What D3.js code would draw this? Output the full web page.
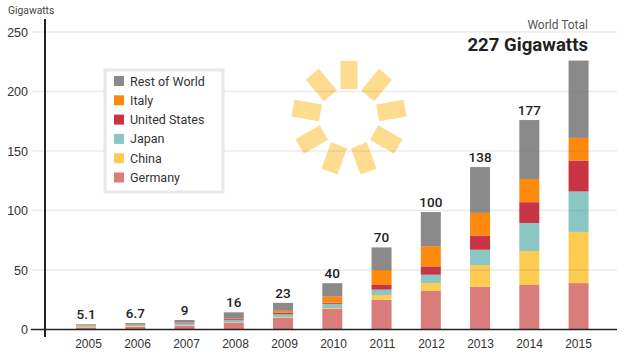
<!DOCTYPE html>
<html><head><meta charset="utf-8">
<script src="https://cdn.jsdelivr.net/npm/d3@7"></script>
<style>html,body{margin:0;background:#fff}svg{display:block;font-family:Roboto,sans-serif}</style>
</head><body><svg id="c" width="627" height="360"></svg>
<script>
const years=[2005,2006,2007,2008,2009,2010,2011,2012,2013,2014,2015];
const totalLabels=["5.1","6.7","9","16","23","40","70","100","138","177",""];
const germany=[1.7,2.2,3.2,5.7,9.7,17.2,25,32.4,36,37.4,39];
const china=[0.5,0.6,0.3,0.2,0.6,0.8,4,6.6,18,28.6,43];
const japan=[1.2,1.0,1.6,1.9,2.6,3.6,4.5,7,13,23.5,34];
const unitedStates=[0.2,0.4,0.7,0.9,1.1,1,3.9,7,12,17.5,26];
const italy=[0.2,0.2,0.1,0.4,1.7,5,12.6,17,19,19.5,19];
const restOfWorld=[0.6,1,2.1,5.3,6.7,11.3,19,28.7,38.5,49.5,65];
const seriesNames=["Germany","China","Japan","United States","Italy","Rest of World"];
const seriesValues=[germany,china,japan,unitedStates,italy,restOfWorld];
const seriesColors=["#d87c7c","#fdcb52","#8ac6c3","#c93344","#fd8a0c","#8c898b"];
const yTicks=[0,50,100,150,200,250];

const svg=d3.select("#c");
const x=d3.scaleBand().domain(years).range([61.4,603.2]).paddingInner(.594).paddingOuter(.297);
const xLabels=d3.scalePoint().domain(years).range([88,578]);
const y=d3.scaleLinear().domain([0,250]).range([329.5,32]);
const rows=years.map((yr,i)=>{const r={year:yr};seriesNames.forEach((n,k)=>r[n]=seriesValues[k][i]);return r;});
const stacked=d3.stack().keys(seriesNames)(rows);

// sun
const sun=svg.append("g").attr("transform","translate(349,118)");
sun.selectAll("rect").data(d3.range(9)).join("rect")
  .attr("x",-8.5).attr("y",-57).attr("width",17).attr("height",28)
  .attr("transform",d=>`rotate(${d*40})`).attr("fill","#fedc8f");

// bars
svg.append("g").selectAll("g").data(stacked).join("g").attr("fill",(d,i)=>seriesColors[i])
  .selectAll("rect").data(d=>d).join("rect")
  .attr("x",d=>x(d.data.year)).attr("width",x.bandwidth())
  .attr("y",d=>y(d[1])).attr("height",d=>y(d[0])-y(d[1]));

// grid, over the bars
const yAxis=d3.axisLeft(y).tickValues(yTicks).tickSize(0).tickPadding(0);
const ga=svg.append("g").attr("transform","translate(28,0)").call(yAxis);
ga.select(".domain").remove();
ga.selectAll("text").attr("font-size",12.5).attr("fill","#333");
svg.append("g").selectAll("line").data(yTicks.filter(d=>d>0)).join("line")
  .attr("x1",32).attr("x2",617).attr("y1",d=>y(d)).attr("y2",d=>y(d))
  .attr("stroke","#787878").attr("stroke-opacity",.15).attr("stroke-width",1.6);

// axes lines
svg.append("line").attr("x1",31).attr("x2",617).attr("y1",y(0)).attr("y2",y(0)).attr("stroke","#222").attr("stroke-width",1.4);
svg.append("line").attr("x1",45).attr("x2",45).attr("y1",19).attr("y2",337).attr("stroke","#222").attr("stroke-width",2);

// x axis
const xa=svg.append("g").attr("transform","translate(0,332)").call(d3.axisBottom(xLabels).tickSize(0).tickPadding(7));
xa.select(".domain").remove();
xa.selectAll("text").attr("font-size",12).attr("fill","#333");

// totals
const topS=stacked[stacked.length-1];
svg.append("g").selectAll("text").data(topS).join("text")
  .attr("x",d=>x(d.data.year)+x.bandwidth()/2).attr("y",d=>y(d[1])-5)
  .attr("text-anchor","middle").attr("font-size",13.5).attr("font-weight",500).attr("fill","#222")
  .text((d,i)=>totalLabels[i]);

// legend
svg.append("rect").attr("x",105).attr("y",70).attr("width",118).attr("height",122)
  .attr("fill","#fff").attr("stroke","#e8e8e8").attr("stroke-width",3);
const legendOrder=[5,4,3,2,1,0];
const lg=svg.append("g").selectAll("g").data(legendOrder).join("g")
  .attr("transform",(d,i)=>`translate(114,${81+i*19.3})`);
lg.append("rect").attr("x",0).attr("y",-5).attr("width",10).attr("height",10).attr("fill",d=>seriesColors[d]);
lg.append("text").attr("x",16).attr("y",4.5).attr("font-size",12.5).attr("fill","#333").text(d=>seriesNames[d]);

// titles
svg.append("text").attr("x",8).attr("y",14).attr("font-size",10.3).attr("fill","#444").text("Gigawatts");
svg.append("text").attr("x",588).attr("y",29).attr("text-anchor","end").attr("font-size",12).attr("fill","#555").text("World Total");
svg.append("text").attr("x",588).attr("y",51).attr("text-anchor","end").attr("font-size",18.6).attr("font-weight",700).attr("fill","#222").text("227 Gigawatts");
</script></body></html>
